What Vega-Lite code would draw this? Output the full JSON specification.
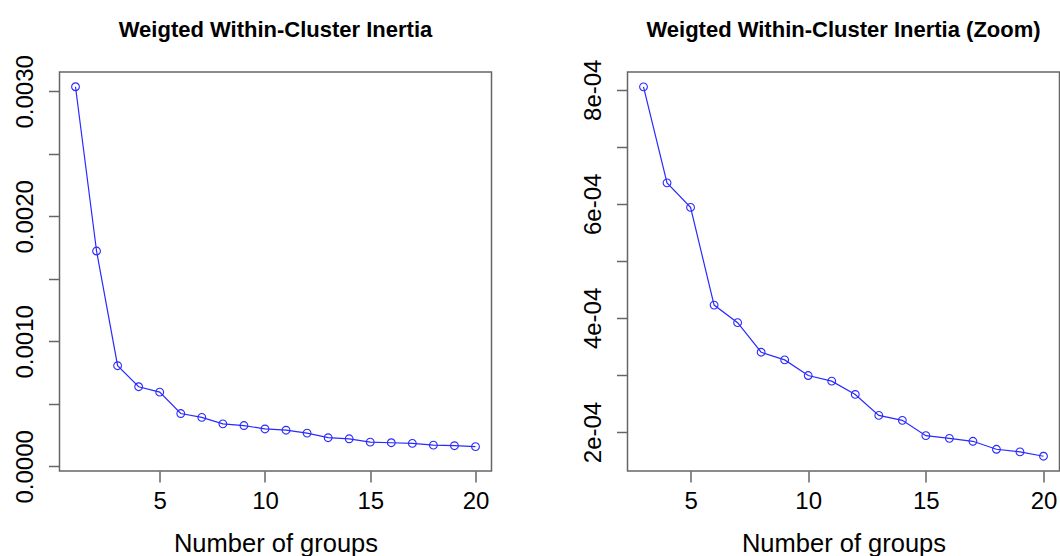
{
  "$schema": "https://vega.github.io/schema/vega-lite/v6.json",
  "background": "white",
  "padding": {"left": 12.5, "top": 17, "right": 0, "bottom": 0},
  "datasets": {
    "inertia": [
      {"k": 1, "v": 0.003037},
      {"k": 2, "v": 0.0017227},
      {"k": 3, "v": 0.0008051},
      {"k": 4, "v": 0.0006368},
      {"k": 5, "v": 0.0005937},
      {"k": 6, "v": 0.0004225},
      {"k": 7, "v": 0.0003916},
      {"k": 8, "v": 0.0003398},
      {"k": 9, "v": 0.0003264},
      {"k": 10, "v": 0.000299},
      {"k": 11, "v": 0.0002891},
      {"k": 12, "v": 0.0002658},
      {"k": 13, "v": 0.0002291},
      {"k": 14, "v": 0.0002204},
      {"k": 15, "v": 0.0001936},
      {"k": 16, "v": 0.0001889},
      {"k": 17, "v": 0.0001837},
      {"k": 18, "v": 0.0001697},
      {"k": 19, "v": 0.0001651},
      {"k": 20, "v": 0.0001575}
    ]
  },
  "bounds": "flush",
  "spacing": 136,
  "hconcat": [
    {
      "width": 432,
      "height": 399,
      "title": {"text": "Weigted Within-Cluster Inertia", "offset": 13},
      "data": {"name": "inertia"},
      "encoding": {
        "x": {"field": "k", "type": "quantitative",
              "scale": {"domain": [0.24, 20.76], "nice": false, "zero": false},
              "axis": {"values": [5, 10, 15, 20], "title": "Number of groups"}},
        "y": {"field": "v", "type": "quantitative",
              "scale": {"domain": [-0.0000373, 0.003155], "nice": false, "zero": false},
              "axis": {"values": [0, 0.0005, 0.001, 0.0015, 0.002, 0.0025, 0.003],
                       "labelExpr": "round(datum.value*10000) % 10 == 0 ? format(datum.value, '.4f') : ''",
                       "title": null}}
      },
      "layer": [
        {"mark": {"type": "line", "color": "#2a2aff", "strokeWidth": 1.2}},
        {"mark": {"type": "point", "shape": "circle", "filled": false, "color": "#2a2aff", "size": 60, "strokeWidth": 1.1, "opacity": 1}}
      ]
    },
    {
      "width": 432,
      "height": 399,
      "title": {"text": "Weigted Within-Cluster Inertia (Zoom)", "offset": 17},
      "data": {"name": "inertia"},
      "transform": [{"filter": "datum.k >= 3"}],
      "encoding": {
        "x": {"field": "k", "type": "quantitative",
              "scale": {"domain": [2.32, 20.68], "nice": false, "zero": false},
              "axis": {"values": [5, 10, 15, 20], "title": "Number of groups"}},
        "y": {"field": "v", "type": "quantitative",
              "scale": {"domain": [0.0001316, 0.0008311], "nice": false, "zero": false},
              "axis": {"values": [0.0002, 0.0003, 0.0004, 0.0005, 0.0006, 0.0007, 0.0008],
                       "labelExpr": "round(datum.value*10000) % 2 == 0 ? (round(datum.value*10000) + 'e-04') : ''",
                       "title": null}}
      },
      "layer": [
        {"mark": {"type": "line", "color": "#2a2aff", "strokeWidth": 1.2}},
        {"mark": {"type": "point", "shape": "circle", "filled": false, "color": "#2a2aff", "size": 60, "strokeWidth": 1.1, "opacity": 1}}
      ]
    }
  ],
  "config": {
    "font": "Liberation Sans",
    "view": {"stroke": "#666666", "strokeWidth": 1.5},
    "title": {"fontSize": 22, "fontWeight": "bold", "color": "#000000", "anchor": "middle", "font": "Liberation Sans"},
    "axis": {
      "grid": false,
      "domain": false,
      "tickColor": "#666666",
      "tickWidth": 1.5,
      "tickSize": 11,
      "labelFont": "Liberation Sans",
      "labelFontSize": 24,
      "labelColor": "#000000",
      "labelOverlap": false,
      "labelFlush": false,
      "titleFont": "Liberation Sans",
      "titleFontSize": 25.5,
      "titleFontWeight": "normal",
      "titleColor": "#000000"
    },
    "axisX": {"labelPadding": 7, "titlePadding": 18},
    "axisY": {"labelAngle": -90, "labelAlign": "center", "labelBaseline": "bottom", "labelPadding": 11}
  }
}
